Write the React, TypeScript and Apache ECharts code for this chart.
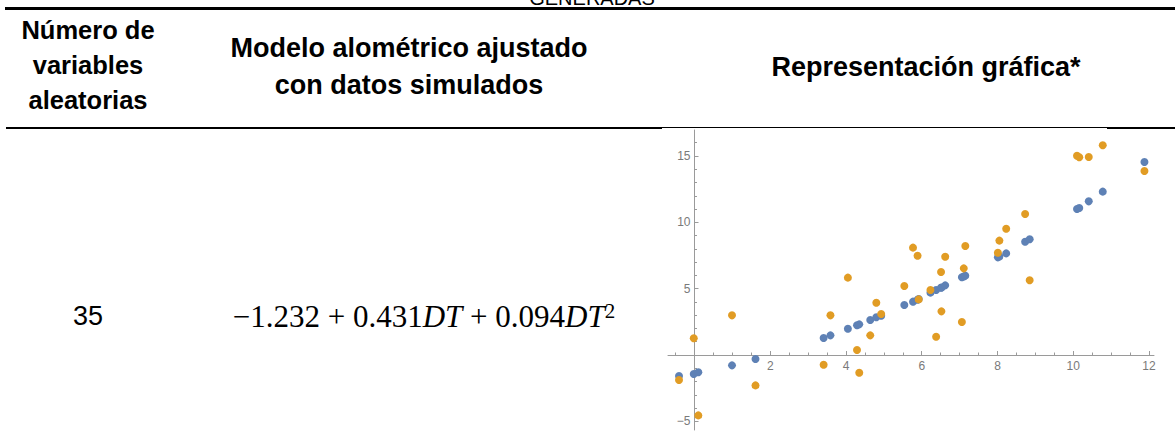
import React, { useEffect, useRef } from "react";
import * as echarts from "echarts";

// DT values (shared x for both series)
const dtValues = [
  -0.41, -0.02, 0.1, 0.99, 1.61, 3.41, 3.59, 4.05, 4.29, 4.35, 4.64, 4.8, 4.93,
  5.54, 5.77, 5.89, 5.92, 6.23, 6.38, 6.51, 6.52, 6.62, 7.06, 7.11, 7.15, 8.01,
  8.05, 8.23, 8.73, 8.85, 10.1, 10.16, 10.41, 10.78, 11.88,
];
// fitted values (blue)
const fittedValues = [
  -1.58, -1.43, -1.3, -0.78, -0.3, 1.28, 1.48, 1.98, 2.24, 2.31, 2.64, 2.84, 2.96,
  3.77, 4.02, 4.16, 4.22, 4.7, 4.9, 5.07, 5.09, 5.25, 5.86, 5.92, 5.98, 7.36,
  7.42, 7.66, 8.54, 8.72, 11.0, 11.08, 11.58, 12.31, 14.54,
];
// simulated values (orange)
const simulatedValues = [
  -1.88, 1.26, -4.55, 2.99, -2.29, -0.73, 2.99, 5.83, 0.38, -1.33, 1.48, 3.94, 3.09,
  5.2, 8.09, 7.48, 4.19, 4.9, 1.38, 6.25, 3.29, 7.41, 2.49, 6.53, 8.21, 7.71,
  8.62, 9.52, 10.63, 5.63, 15.02, 14.9, 14.92, 15.8, 13.87,
];

const xMajorTicks = [2, 4, 6, 8, 10, 12];
const xMinorTicks = [
  -0.5, 0.5, 1, 1.5, 2.5, 3, 3.5, 4.5, 5, 5.5, 6.5, 7, 7.5, 8.5, 9, 9.5, 10.5, 11, 11.5,
];
const yMajorTicks = [-5, 5, 10, 15];
const yMinorTicks = [-4, -3, -2, -1, 1, 2, 3, 4, 6, 7, 8, 9, 11, 12, 13, 14, 16];

const headerCol1 = "Número de\nvariables\naleatorias";
const headerCol2 = "Modelo alométrico ajustado\ncon datos simulados";
const headerCol3 = "Representación gráfica*";
const cutTitle = "GENERADAS";
const rowCount = "35";

const AXIS_COLOR = "#9a9a9a";
const LABEL_COLOR = "#7a7a7a";
const SANS = '"Liberation Sans", Arial, sans-serif';
const SERIF = '"Liberation Serif", "Times New Roman", serif';

export default function App() {
  const ref = useRef<HTMLDivElement>(null);

  useEffect(() => {
    if (!ref.current) return;
    const chart = echarts.init(ref.current, undefined, { renderer: "svg" });

    const gridLeft = 668;
    const gridTop = 130;
    const gridW = 486;
    const gridH = 300;
    const xMin = -0.7;
    const xMax = 12.133;
    const yMin = -5.65;
    const yMax = 16.955;
    // place the axes where the other axis is zero (Mathematica-style crossing axes)
    const xAxisOffset = -(gridH * (0 - yMin)) / (yMax - yMin);
    const yAxisOffset = -(gridW * (0 - xMin)) / (xMax - xMin);

    const minorX = {
      type: "value",
      min: xMin,
      max: xMax,
      position: "bottom",
      offset: xAxisOffset,
      axisLine: { show: false, onZero: false },
      axisTick: {
        show: true,
        inside: true,
        length: 2.5,
        customValues: xMinorTicks,
        lineStyle: { color: AXIS_COLOR, width: 1 },
      },
      axisLabel: { show: false },
      splitLine: { show: false },
    };
    const minorY = {
      type: "value",
      min: yMin,
      max: yMax,
      position: "left",
      offset: yAxisOffset,
      axisLine: { show: false, onZero: false },
      axisTick: {
        show: true,
        inside: true,
        length: 2.5,
        customValues: yMinorTicks,
        lineStyle: { color: AXIS_COLOR, width: 1 },
      },
      axisLabel: { show: false },
      splitLine: { show: false },
    };

    chart.setOption({
      animation: false,
      backgroundColor: "#ffffff",
      grid: { left: gridLeft, top: gridTop, width: gridW, height: gridH, containLabel: false },
      xAxis: [
        {
          type: "value",
          min: xMin,
          max: xMax,
          position: "bottom",
          offset: xAxisOffset,
          axisLine: { show: true, onZero: false, lineStyle: { color: AXIS_COLOR, width: 1 } },
          axisTick: {
            show: true,
            inside: true,
            length: 4,
            customValues: xMajorTicks,
            lineStyle: { color: AXIS_COLOR, width: 1 },
          },
          axisLabel: {
            show: true,
            customValues: xMajorTicks,
            color: LABEL_COLOR,
            fontSize: 12,
            fontFamily: SANS,
            margin: 5,
          },
          splitLine: { show: false },
        },
        minorX,
      ],
      yAxis: [
        {
          type: "value",
          min: yMin,
          max: yMax,
          position: "left",
          offset: yAxisOffset,
          axisLine: { show: true, onZero: false, lineStyle: { color: AXIS_COLOR, width: 1 } },
          axisTick: {
            show: true,
            inside: true,
            length: 4,
            customValues: yMajorTicks,
            lineStyle: { color: AXIS_COLOR, width: 1 },
          },
          axisLabel: {
            show: true,
            customValues: yMajorTicks,
            color: LABEL_COLOR,
            fontSize: 12,
            fontFamily: SANS,
            margin: 4,
            formatter: (v: number) => (v < 0 ? "\u2212" + Math.abs(v) : String(v)),
          },
          splitLine: { show: false },
        },
        minorY,
      ],
      series: [
        {
          type: "scatter",
          name: "ajustado",
          xAxisIndex: 0,
          yAxisIndex: 0,
          symbolSize: 8,
          itemStyle: { color: "#5E81B5", opacity: 1 },
          data: dtValues.map((x, i) => [x, fittedValues[i]]),
        },
        {
          type: "scatter",
          name: "simulado",
          xAxisIndex: 0,
          yAxisIndex: 0,
          symbolSize: 8,
          itemStyle: { color: "#E19C24", opacity: 1 },
          data: dtValues.map((x, i) => [x, simulatedValues[i]]),
        },
      ],
      graphic: [
        {
          type: "text",
          x: 592,
          y: 8,
          style: {
            text: cutTitle,
            fontFamily: SANS,
            fontSize: 20,
            fill: "#000",
            align: "center",
            verticalAlign: "bottom",
          },
        },
        {
          type: "rect",
          shape: { x: 5, y: 7, width: 1170, height: 3 },
          style: { fill: "#000" },
        },
        {
          type: "rect",
          shape: { x: 6, y: 127, width: 1169, height: 2 },
          style: { fill: "#000" },
        },
        {
          type: "rect",
          shape: { x: 662, y: 128, width: 445, height: 1 },
          style: { fill: "#fff" },
        },
        {
          type: "text",
          x: 88,
          y: 65,
          style: {
            text: headerCol1,
            fontFamily: SANS,
            fontWeight: "bold",
            fontSize: 25.5,
            lineHeight: 35,
            fill: "#000",
            align: "center",
            verticalAlign: "middle",
          },
        },
        {
          type: "text",
          x: 409,
          y: 66,
          style: {
            text: headerCol2,
            fontFamily: SANS,
            fontWeight: "bold",
            fontSize: 27,
            lineHeight: 37,
            fill: "#000",
            align: "center",
            verticalAlign: "middle",
          },
        },
        {
          type: "text",
          x: 926,
          y: 67,
          style: {
            text: headerCol3,
            fontFamily: SANS,
            fontWeight: "bold",
            fontSize: 27,
            fill: "#000",
            align: "center",
            verticalAlign: "middle",
          },
        },
        {
          type: "text",
          x: 88,
          y: 316,
          style: {
            text: rowCount,
            fontFamily: SANS,
            fontSize: 27,
            fill: "#000",
            align: "center",
            verticalAlign: "middle",
          },
        },
        {
          type: "text",
          x: 424,
          y: 316,
          style: {
            text: "{n|\u22121.232 + 0.431}{i|DT}{n| + 0.094}{i|DT}{s|2}",
            align: "center",
            verticalAlign: "middle",
            rich: {
              n: { fontFamily: SERIF, fontSize: 31, fill: "#000", color: "#000" },
              i: { fontFamily: SERIF, fontSize: 31, fontStyle: "italic", fill: "#000", color: "#000" },
              s: { fontFamily: SERIF, fontSize: 21, fill: "#000", color: "#000", verticalAlign: "top" },
            },
          },
        },
      ],
    });

    return () => chart.dispose();
  }, []);

  return (
    <div
      ref={ref}
      style={{ position: "fixed", left: 0, top: 0, width: 1175, height: 445, background: "#fff" }}
    />
  );
}
